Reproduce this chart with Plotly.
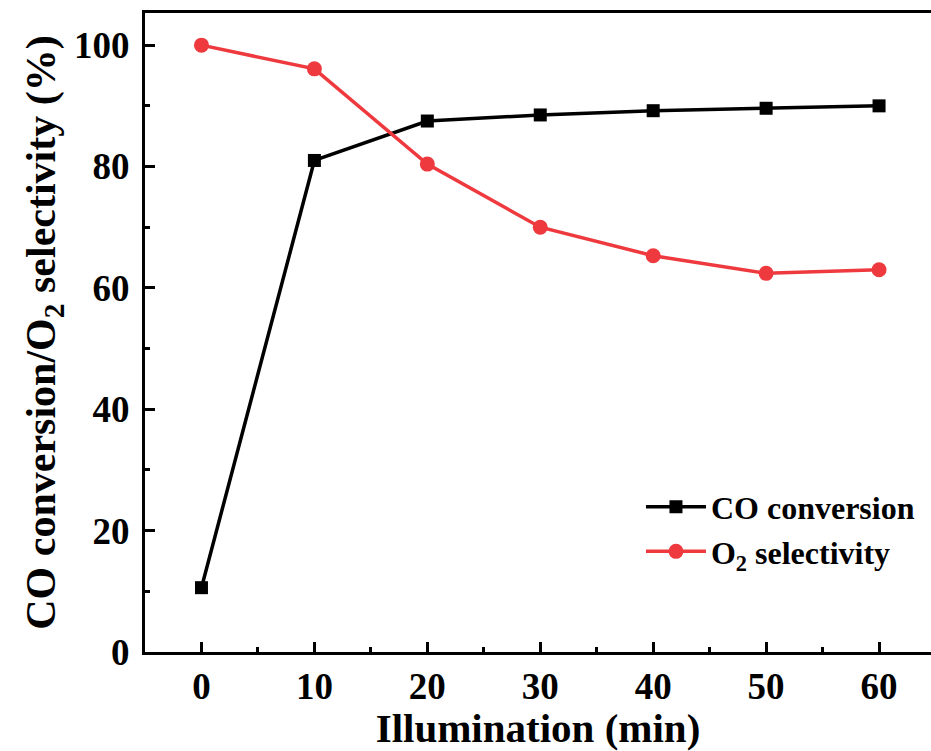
import plotly.graph_objects as go

time_min = [0, 10, 20, 30, 40, 50, 60]
co_conversion = [10.6, 81.0, 87.5, 88.5, 89.2, 89.6, 90.0]
o2_selectivity = [100.0, 96.1, 80.4, 70.0, 65.3, 62.4, 63.0]
x_ticks = [0, 10, 20, 30, 40, 50, 60]
y_ticks = [0, 20, 40, 60, 80, 100]

FONT = "Liberation Serif"
RED = "#EE3A3E"

fig = go.Figure()
fig.add_trace(go.Scatter(
    x=time_min, y=co_conversion, mode="lines+markers", name="CO conversion",
    line=dict(color="black", width=3.5),
    marker=dict(symbol="square", size=13, color="black"),
))
fig.add_trace(go.Scatter(
    x=time_min, y=o2_selectivity, mode="lines+markers", name="O<sub>2</sub> selectivity",
    line=dict(color=RED, width=3.5),
    marker=dict(symbol="circle", size=15, color=RED),
))

axis_common = dict(
    showline=True, linecolor="black", linewidth=3,
    ticks="inside", ticklen=10, tickwidth=3, tickcolor="black",
    showgrid=False, zeroline=False,
    tickfont=dict(family=FONT, size=37, color="black", weight="bold"),
)

fig.update_layout(
    width=931, height=751,
    margin=dict(l=145, r=0, t=13, b=99),
    paper_bgcolor="white", plot_bgcolor="white",
    font=dict(family=FONT, color="black"),
    xaxis=dict(
        **axis_common,
        range=[-5, 64.6], tickvals=x_ticks, mirror=True,
        minor=dict(ticks="inside", ticklen=5, tickwidth=3, tickcolor="black", dtick=5, tick0=0),
        ticklabelstandoff=0,
        title=dict(text="Illumination (min)", font=dict(family=FONT, size=41, weight="bold"), standoff=0),
    ),
    yaxis=dict(
        **axis_common,
        range=[0, 105.3], tickvals=y_ticks,
        minor=dict(ticks="inside", ticklen=5, tickwidth=3, tickcolor="black", dtick=10, tick0=0),
        ticklabelstandoff=5,
        title=dict(text="CO conversion/O<sub>2</sub> selectivity (%)", font=dict(family=FONT, size=42, weight="bold"), standoff=6),
    ),
    legend=dict(
        x=0.631, y=0.27, xanchor="left", yanchor="top",
        bgcolor="rgba(0,0,0,0)",
        font=dict(family=FONT, size=32, color="black", weight="bold"),
        tracegroupgap=0, itemwidth=60,
    ),
)

fig.write_html("out.html")
